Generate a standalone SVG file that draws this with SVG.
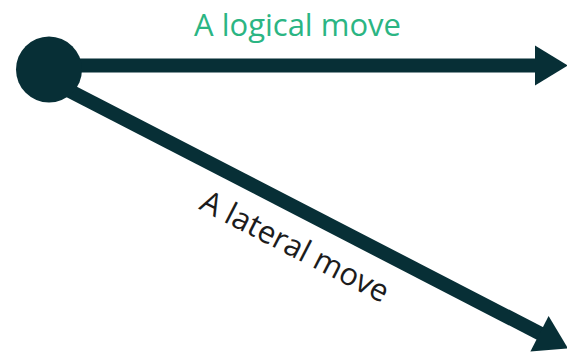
<svg xmlns="http://www.w3.org/2000/svg" width="567" height="354" viewBox="0 0 567 354">
<style>
.ln{stroke:#072f36;stroke-width:14;fill:none}
.hd{fill:#072f36}
.lbl{font-family:"Open Sans","Noto Sans",sans-serif;font-size:31px}
</style>
<rect width="567" height="354" fill="#ffffff"/>
<g id="connectors">
<line class="ln" x1="49" y1="65.5" x2="537" y2="65.5"/>
<polygon class="hd" points="535,45.5 568,65.5 535,85.5"/>
<line class="ln" x1="49" y1="80.2" x2="541" y2="334"/>
<polygon class="hd" points="548.6,316 568,348.3 530.4,351.4"/>
</g>
<g id="origin">
<circle cx="49" cy="69.5" r="33" fill="#072f36"/>
</g>
<g id="label-logical">
<text class="lbl" x="297.5" y="35.7" text-anchor="middle" fill="#2bb583">A logical move</text>
</g>
<g id="label-lateral">
<text class="lbl" transform="translate(198,208.5) rotate(27.2)" fill="#1c1c1c">A lateral move</text>
</g>
</svg>
